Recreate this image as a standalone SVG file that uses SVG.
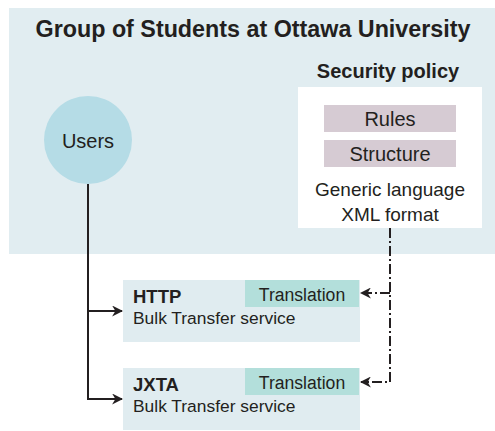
<svg xmlns="http://www.w3.org/2000/svg" width="495" height="431" viewBox="0 0 495 431">
<defs>
<style>
text{font-family:"Liberation Sans",Arial,sans-serif;fill:#231f20}
.b{font-weight:bold}
.ln{fill:none;stroke:#231f20;stroke-width:2}
.dd{fill:none;stroke:#231f20;stroke-width:2;stroke-dasharray:10 3 2 3}
.tag{fill:#d6cbd3}
.tr{fill:#b3dfdb}
.svc{fill:#e0ecf0}
</style>
<marker id="ah" viewBox="0 0 10 10" refX="9" refY="5" markerWidth="5.5" markerHeight="5.5" orient="auto-start-reverse">
<path d="M0,0 L10,5 L0,10 L3,5 Z" fill="#231f20"/>
</marker>
</defs>
<rect width="495" height="431" fill="#ffffff"/>
<g id="group">
<rect x="9" y="8" width="486" height="246" fill="#e1edf1"/>
<text x="253" y="37" font-size="23.3" class="b" text-anchor="middle">Group of Students at Ottawa University</text>
</g>
<g id="policy">
<text x="388" y="78" font-size="20" class="b" text-anchor="middle">Security policy</text>
<rect x="298" y="87" width="184" height="141" fill="#ffffff"/>
<rect class="tag" x="324" y="105" width="132" height="27"/>
<text x="390" y="126" font-size="20" text-anchor="middle">Rules</text>
<rect class="tag" x="324" y="140" width="132" height="27"/>
<text x="390" y="161" font-size="20" text-anchor="middle">Structure</text>
<text x="390" y="196" font-size="19" text-anchor="middle">Generic language</text>
<text x="390" y="221" font-size="19" text-anchor="middle">XML format</text>
</g>
<g id="users">
<circle cx="88" cy="140" r="44" fill="#b5dce6"/>
<text x="88" y="148" font-size="20" text-anchor="middle">Users</text>
</g>
<g id="http">
<rect class="svc" x="123" y="280" width="237" height="62"/>
<rect class="tr" x="245" y="280" width="114" height="27"/>
<text x="302" y="301" font-size="17.6" text-anchor="middle">Translation</text>
<text x="133" y="303" font-size="18.5" class="b">HTTP</text>
<text x="133" y="324" font-size="17.4">Bulk Transfer service</text>
</g>
<g id="jxta">
<rect class="svc" x="123" y="368" width="237" height="62"/>
<rect class="tr" x="245" y="368" width="114" height="27"/>
<text x="302" y="389" font-size="17.6" text-anchor="middle">Translation</text>
<text x="133" y="391" font-size="18.5" class="b">JXTA</text>
<text x="133" y="412" font-size="17.4">Bulk Transfer service</text>
</g>
<g id="connectors">
<path class="ln" d="M88,184 V399 H122" marker-end="url(#ah)"/>
<path class="ln" d="M88,311 H122" marker-end="url(#ah)"/>
<path class="dd" d="M390,228 V382 H361" marker-end="url(#ah)"/>
<path class="dd" d="M390,293 H361" marker-end="url(#ah)"/>
</g>
</svg>
